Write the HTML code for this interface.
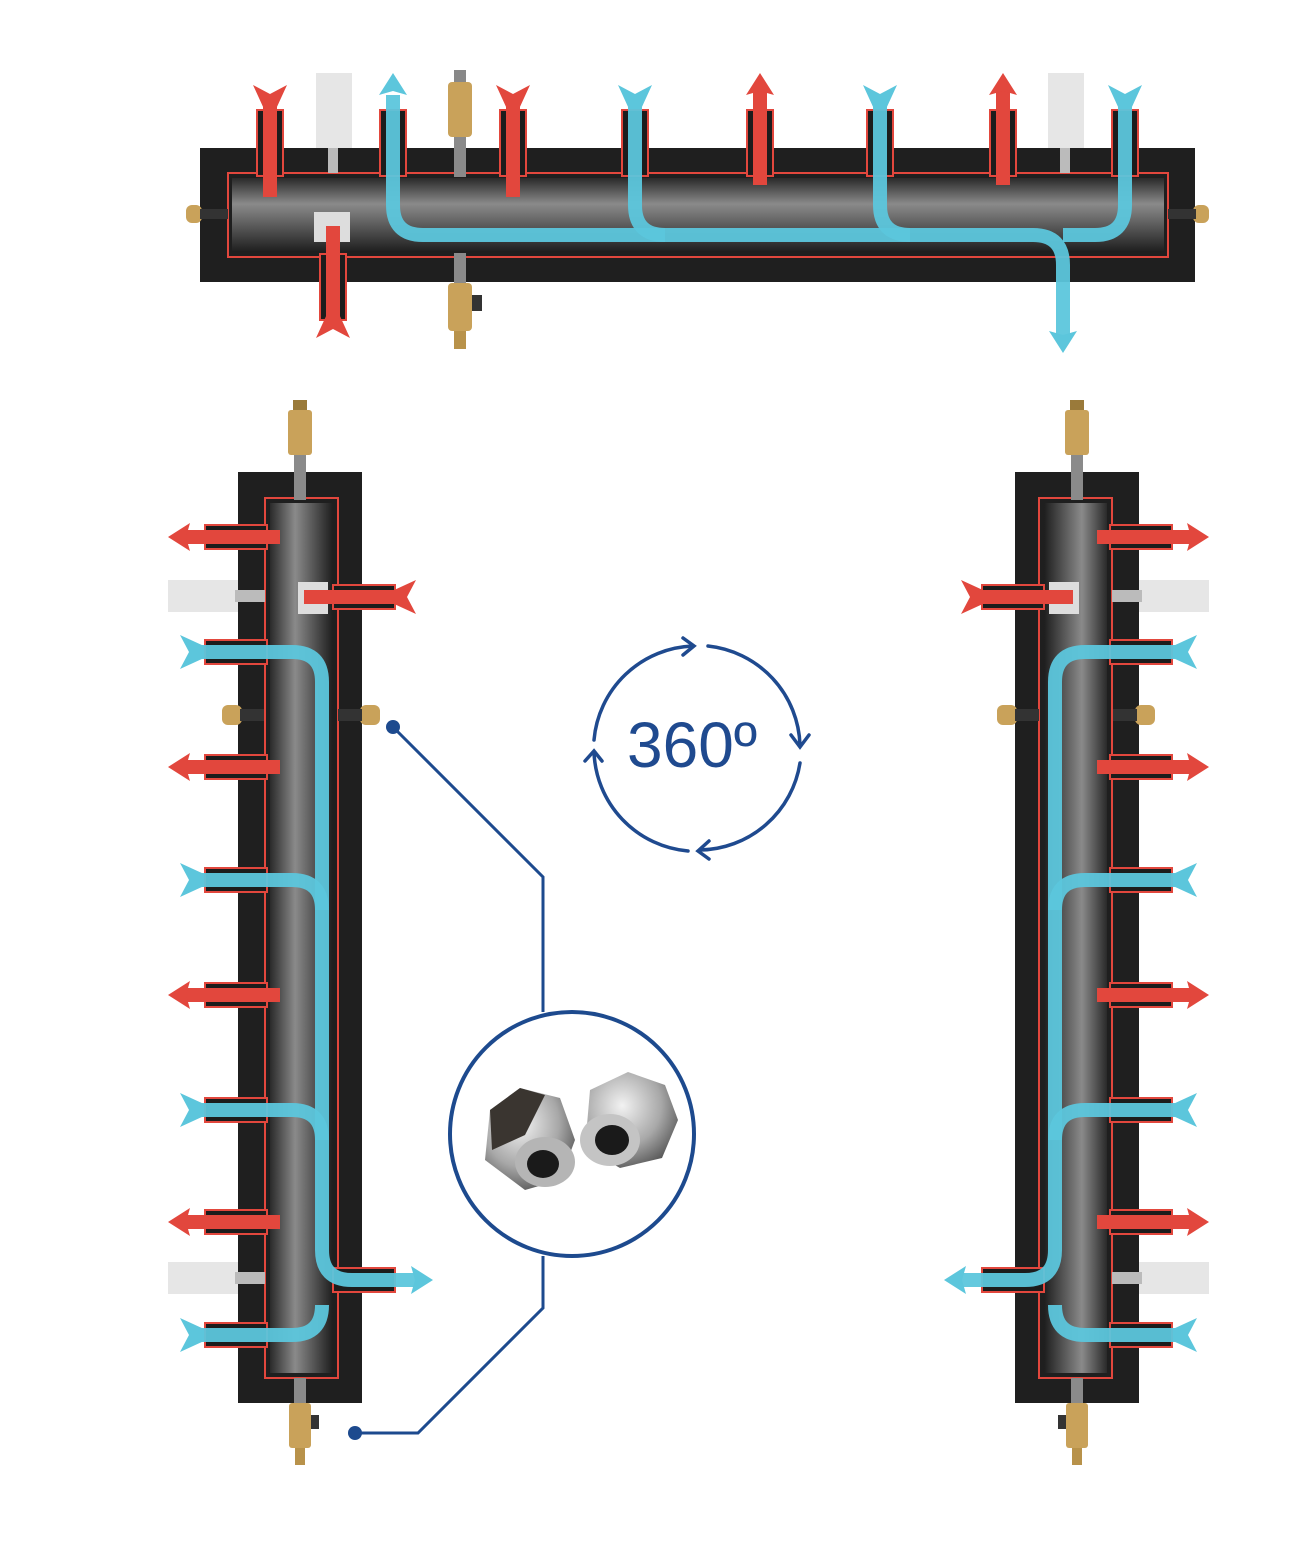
<!DOCTYPE html>
<html><head><meta charset="utf-8"><style>
html,body{margin:0;padding:0;background:#fff;}
svg{display:block;}
</style></head><body>
<svg width="1302" height="1542" viewBox="0 0 1302 1542" xmlns="http://www.w3.org/2000/svg">
<defs>
  <linearGradient id="pipeH" x1="0" y1="0" x2="0" y2="1">
    <stop offset="0" stop-color="#2a2a2a"/><stop offset="0.35" stop-color="#8a8a8a"/><stop offset="0.55" stop-color="#6a6a6a"/><stop offset="1" stop-color="#1e1e1e"/>
  </linearGradient>
  <linearGradient id="pipeV" x1="0" y1="0" x2="1" y2="0">
    <stop offset="0" stop-color="#2a2a2a"/><stop offset="0.4" stop-color="#8a8a8a"/><stop offset="0.6" stop-color="#666"/><stop offset="1" stop-color="#1e1e1e"/>
  </linearGradient>
  <radialGradient id="nut" cx="0.4" cy="0.35" r="0.7">
    <stop offset="0" stop-color="#f2f2f2"/><stop offset="0.6" stop-color="#a8a8a8"/><stop offset="1" stop-color="#555"/>
  </radialGradient>
  <g id="redOut"><rect x="16" y="-7" width="96" height="14" fill="#e2473d"/><polygon points="0,0 22,-14 18,0 22,14" fill="#e2473d"/></g>
  <g id="redIn"><rect x="16" y="-7" width="96" height="14" fill="#e2473d"/><polygon points="0,-17 24,-6 24,6 0,17 9,0" fill="#e2473d"/></g>
  <g id="blueIn"><polygon points="0,-17 24,-6 24,6 0,17 9,0" fill="#5cc6dc"/></g>
  <g id="blueOut"><polygon points="0,0 22,-14 18,0 22,14" fill="#5cc6dc"/></g>
  <g id="stubV"><rect x="37" y="-12" width="62" height="24" fill="#1c1c1c" stroke="#e2473d" stroke-width="2"/></g>
  <g id="stubT"><rect x="25" y="-13" width="66" height="26" fill="#1c1c1c" stroke="#e2473d" stroke-width="2"/></g>

  <g id="vman">
    <rect x="238" y="472" width="124" height="931" fill="#1f1f1f"/>
    <rect x="265" y="498" width="73" height="880" fill="none" stroke="#e2473d" stroke-width="2"/>
    <rect x="270" y="503" width="63" height="870" fill="url(#pipeV)"/>
    <rect x="293" y="400" width="14" height="10" fill="#9a7a3a"/>
    <rect x="288" y="410" width="24" height="45" rx="3" fill="#c9a25a"/>
    <rect x="294" y="455" width="12" height="45" fill="#8a8a8a"/>
    <rect x="294" y="1378" width="12" height="25" fill="#8a8a8a"/>
    <rect x="289" y="1403" width="22" height="45" rx="3" fill="#c9a25a"/>
    <rect x="311" y="1415" width="8" height="14" fill="#333"/>
    <rect x="295" y="1448" width="10" height="17" fill="#b8924a"/>
    <use href="#stubV" transform="translate(168,537)"/>
    <use href="#stubV" transform="translate(168,652)"/>
    <use href="#stubV" transform="translate(168,767)"/>
    <use href="#stubV" transform="translate(168,880)"/>
    <use href="#stubV" transform="translate(168,995)"/>
    <use href="#stubV" transform="translate(168,1110)"/>
    <use href="#stubV" transform="translate(168,1222)"/>
    <use href="#stubV" transform="translate(168,1335)"/>
    <use href="#stubV" transform="translate(432,597) scale(-1,1)"/>
    <use href="#stubV" transform="translate(432,1280) scale(-1,1)"/>
    <rect x="168" y="580" width="70" height="32" fill="#e6e6e6"/>
    <rect x="235" y="590" width="30" height="12" fill="#bbb"/>
    <rect x="168" y="1262" width="70" height="32" fill="#e6e6e6"/>
    <rect x="235" y="1272" width="30" height="12" fill="#bbb"/>
    <rect x="298" y="582" width="30" height="32" fill="#ddd"/>
    <rect x="222" y="705" width="20" height="20" rx="6" fill="#c9a25a"/>
    <rect x="360" y="705" width="20" height="20" rx="6" fill="#c9a25a"/>
    <rect x="240" y="709" width="24" height="12" fill="#333"/>
    <rect x="338" y="709" width="24" height="12" fill="#333"/>
    <use href="#redOut" transform="translate(168,537)"/>
    <use href="#redOut" transform="translate(168,767)"/>
    <use href="#redOut" transform="translate(168,995)"/>
    <use href="#redOut" transform="translate(168,1222)"/>
    <use href="#redIn" transform="translate(416,597) scale(-1,1)"/>
    <g fill="none" stroke="#5cc6dc" stroke-width="14" stroke-opacity="0.95">
      <path d="M190,652 H292 Q322,652 322,682 V1250 Q322,1280 352,1280 H415"/>
      <path d="M190,880 H292 Q322,880 322,910"/>
      <path d="M190,1110 H292 Q322,1110 322,1140"/>
      <path d="M190,1335 H292 Q322,1335 322,1305"/>
    </g>
    <use href="#blueIn" transform="translate(180,652)"/>
    <use href="#blueIn" transform="translate(180,880)"/>
    <use href="#blueIn" transform="translate(180,1110)"/>
    <use href="#blueIn" transform="translate(180,1335)"/>
    <use href="#blueOut" transform="translate(433,1280) scale(-1,1)"/>
  </g>
</defs>

<rect x="200" y="148" width="995" height="134" fill="#1f1f1f"/>
<rect x="228" y="173" width="940" height="84" fill="none" stroke="#e2473d" stroke-width="2"/>
<rect x="232" y="178" width="932" height="74" fill="url(#pipeH)"/>
<rect x="186" y="205" width="16" height="18" rx="6" fill="#c9a25a"/>
<rect x="1193" y="205" width="16" height="18" rx="6" fill="#c9a25a"/>
<rect x="200" y="209" width="28" height="10" fill="#333"/>
<rect x="1168" y="209" width="28" height="10" fill="#333"/>
<g>
  <use href="#stubT" transform="translate(270,85) rotate(90)"/>
  <use href="#stubT" transform="translate(393,85) rotate(90)"/>
  <use href="#stubT" transform="translate(513,85) rotate(90)"/>
  <use href="#stubT" transform="translate(635,85) rotate(90)"/>
  <use href="#stubT" transform="translate(760,85) rotate(90)"/>
  <use href="#stubT" transform="translate(880,85) rotate(90)"/>
  <use href="#stubT" transform="translate(1003,85) rotate(90)"/>
  <use href="#stubT" transform="translate(1125,85) rotate(90)"/>
  <use href="#stubT" transform="translate(333,345) rotate(-90)"/>
</g>
<rect x="316" y="73" width="36" height="75" fill="#e6e6e6"/>
<rect x="328" y="148" width="10" height="25" fill="#bbb"/>
<rect x="1048" y="73" width="36" height="75" fill="#e6e6e6"/>
<rect x="1060" y="148" width="10" height="25" fill="#bbb"/>
<rect x="314" y="212" width="36" height="30" fill="#ddd"/>
<rect x="454" y="70" width="12" height="12" fill="#888"/>
<rect x="448" y="82" width="24" height="55" rx="4" fill="#c9a25a"/>
<rect x="454" y="137" width="12" height="40" fill="#8a8a8a"/>
<rect x="454" y="253" width="12" height="30" fill="#8a8a8a"/>
<rect x="448" y="283" width="24" height="48" rx="4" fill="#c9a25a"/>
<rect x="472" y="295" width="10" height="16" fill="#333"/>
<rect x="454" y="331" width="12" height="18" fill="#b8924a"/>
<use href="#redIn" transform="translate(270,85) rotate(90)"/>
<use href="#redIn" transform="translate(513,85) rotate(90)"/>
<use href="#redOut" transform="translate(760,73) rotate(90)"/>
<use href="#redOut" transform="translate(1003,73) rotate(90)"/>
<use href="#redIn" transform="translate(333,338) rotate(-90)"/>
<g fill="none" stroke="#5cc6dc" stroke-width="14" stroke-opacity="0.95">
  <path d="M393,95 V205 Q393,235 423,235 H1033 Q1063,235 1063,265 V338"/>
  <path d="M635,95 V205 Q635,235 665,235"/>
  <path d="M880,95 V205 Q880,235 910,235"/>
  <path d="M1125,95 V205 Q1125,235 1095,235 H1063"/>
</g>
<use href="#blueOut" transform="translate(393,73) rotate(90)"/>
<use href="#blueIn" transform="translate(635,85) rotate(90)"/>
<use href="#blueIn" transform="translate(880,85) rotate(90)"/>
<use href="#blueIn" transform="translate(1125,85) rotate(90)"/>
<use href="#blueOut" transform="translate(1063,353) rotate(-90)"/>

<use href="#vman"/>
<use href="#vman" transform="translate(1377,0) scale(-1,1)"/>

<g fill="none" stroke="#1f4a8f" stroke-width="3.5" stroke-linecap="round">
  <path d="M708,646 A103,103 0 0 1 800,745"/>
  <path d="M800,763 A103,103 0 0 1 700,850"/>
  <path d="M688,851 A103,103 0 0 1 594,752"/>
  <path d="M594,740 A103,103 0 0 1 693,646"/>
  <path d="M683,638 L694,646 L683,655"/>
  <path d="M791,735 L800,747 L809,735"/>
  <path d="M709,841 L698,851 L709,859"/>
  <path d="M585,761 L594,751 L602,761"/>
</g>
<text x="627" y="767" font-family="Liberation Sans, sans-serif" font-size="64" fill="#1f4a8f">360º</text>

<g fill="none" stroke="#1d4a8e" stroke-width="3">
  <path d="M393,727 L543,877 V1012"/>
  <path d="M543,1256 V1308 L418,1433 H355"/>
</g>
<circle cx="393" cy="727" r="7" fill="#1d4a8e"/>
<circle cx="355" cy="1433" r="7" fill="#1d4a8e"/>
<circle cx="572" cy="1134" r="122" fill="#fff" stroke="#1d4a8e" stroke-width="4"/>
<polygon points="490,1110 520,1088 560,1098 575,1140 560,1180 525,1190 485,1160" fill="url(#nut)"/>
<polygon points="490,1110 520,1088 545,1095 525,1135 492,1150" fill="#3a3530"/>
<ellipse cx="545" cy="1162" rx="30" ry="25" fill="#b5b5b5"/>
<ellipse cx="543" cy="1164" rx="16" ry="14" fill="#1a1a1a"/>
<polygon points="590,1090 628,1072 665,1085 678,1120 662,1158 620,1168 585,1148" fill="url(#nut)"/>
<ellipse cx="610" cy="1140" rx="30" ry="26" fill="#c4c4c4"/>
<ellipse cx="612" cy="1140" rx="17" ry="15" fill="#1a1a1a"/>
</svg>
</body></html>
